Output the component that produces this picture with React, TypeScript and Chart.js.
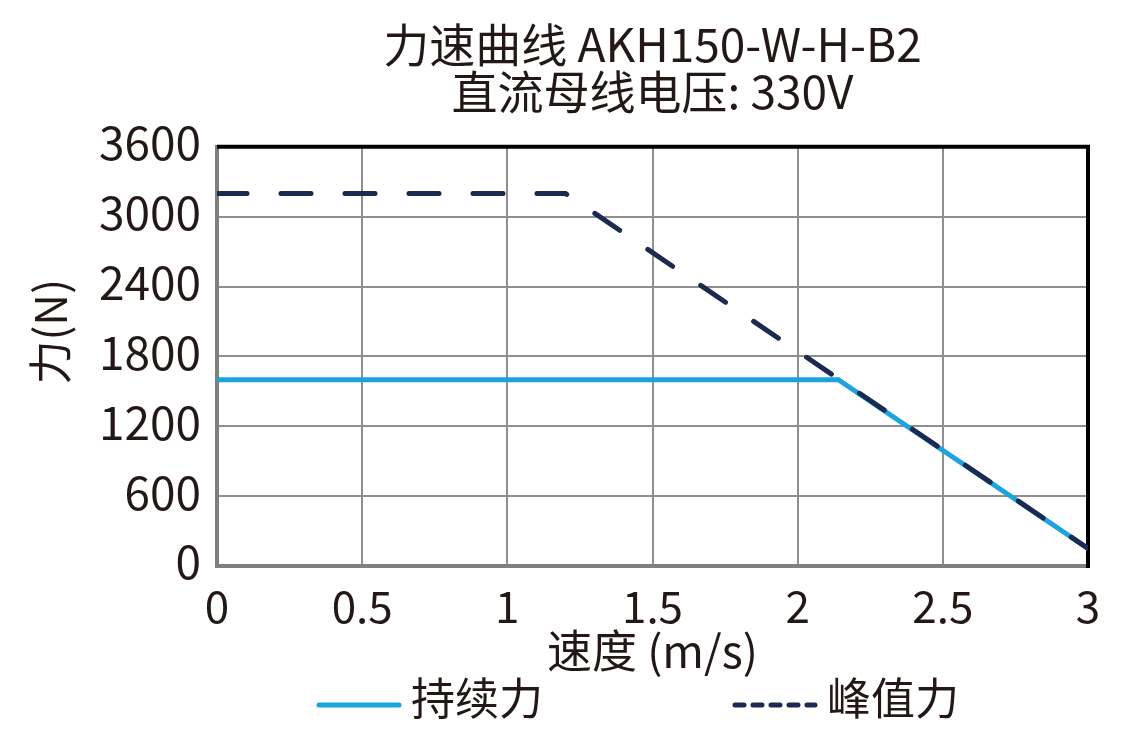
import { Chart, registerables } from "chart.js";
import { useEffect, useRef } from "react";

Chart.register(...registerables);

const FONT = '"Noto Sans CJK SC", "Noto Sans", sans-serif';
const TEXT_COLOR = "#231815";

const titleLines = ["力速曲线 AKH150-W-H-B2", "直流母线电压: 330V"];
const xTitle = "速度 (m/s)";
const yTitle = "     力(N)";
const seriesNames = ["持续力", "峰值力"];
const seriesColors = ["#1ea3de", "#1b2a50"];

const continuousSpeed = [0, 2.14, 3];
const continuousForce = [1600, 1600, 150];
const peakSpeed = [0, 1.2, 3];
const peakForce = [3200, 3200, 150];

const xTicks = [0, 0.5, 1, 1.5, 2, 2.5, 3];
const yTicks = [0, 600, 1200, 1800, 2400, 3000, 3600];

// black frame on top and right of the plot
const framePlugin = {
  id: "frame",
  beforeDatasetsDraw(chart: any) {
    const { ctx, chartArea } = chart;
    ctx.save();
    ctx.strokeStyle = "#000";
    ctx.lineWidth = 4;
    ctx.beginPath();
    ctx.moveTo(chartArea.left, chartArea.top);
    ctx.lineTo(chartArea.right, chartArea.top);
    ctx.lineTo(chartArea.right, chartArea.bottom + 2);
    ctx.stroke();
    ctx.restore();
  },
};

// legend drawn under the x axis title
const legendPlugin = {
  id: "bottomLegend",
  afterDraw(chart: any) {
    const { ctx, chartArea } = chart;
    ctx.save();
    ctx.font = `44px ${FONT}`;
    ctx.textBaseline = "middle";
    ctx.textAlign = "left";
    const lineLen = 86;
    const textGap = 9;
    const itemGap = 189;
    const widths = seriesNames.map((n) => ctx.measureText(n).width);
    const total = 2 * (lineLen + textGap) + widths[0] + widths[1] + itemGap;
    let x = (chartArea.left + chartArea.right) / 2 - 15 - total / 2;
    const lineY = chart.height - 25;
    const textY = chart.height - 32;
    seriesNames.forEach((name, i) => {
      ctx.strokeStyle = seriesColors[i];
      ctx.lineWidth = 5;
      ctx.lineCap = "round";
      ctx.setLineDash(i === 1 ? [9, 9] : []);
      ctx.beginPath();
      ctx.moveTo(x + 3, lineY);
      ctx.lineTo(x + lineLen - 3, lineY);
      ctx.stroke();
      ctx.setLineDash([]);
      ctx.fillStyle = TEXT_COLOR;
      ctx.fillText(name, x + lineLen + textGap, textY);
      x += lineLen + textGap + widths[i] + itemGap;
    });
    ctx.restore();
  },
};

export default function App() {
  const chartRef = useRef<HTMLCanvasElement>(null);
  const chartInstance = useRef<Chart | null>(null);

  useEffect(() => {
    if (!chartRef.current) return;
    if (chartInstance.current) chartInstance.current.destroy();

    const ctx = chartRef.current.getContext("2d");
    if (!ctx) return;

    chartInstance.current = new Chart(ctx, {
      type: "line",
      data: {
        datasets: [
          {
            label: seriesNames[0],
            data: continuousSpeed.map((x, i) => ({ x, y: continuousForce[i] })),
            borderColor: seriesColors[0],
            backgroundColor: seriesColors[0],
            borderWidth: 5,
            pointRadius: 0,
            tension: 0,
            order: 1,
          },
          {
            label: seriesNames[1],
            data: peakSpeed.map((x, i) => ({ x, y: peakForce[i] })),
            borderColor: seriesColors[1],
            backgroundColor: seriesColors[1],
            borderWidth: 5,
            borderDash: [30, 34],
            borderCapStyle: "round",
            pointRadius: 0,
            tension: 0,
            order: 0,
          },
        ],
      },
      options: {
        responsive: true,
        maintainAspectRatio: false,
        animation: false,
        layout: {
          padding: { left: 0, right: 45, top: 0, bottom: 52 },
        },
        plugins: {
          legend: { display: false },
          tooltip: { enabled: false },
          title: {
            display: true,
            fullSize: false,
            text: titleLines,
            color: TEXT_COLOR,
            font: { family: FONT, size: 46, weight: "normal", lineHeight: 1.02 },
            padding: { top: 13, bottom: 32 },
          },
        },
        scales: {
          x: {
            type: "linear",
            min: xTicks[0],
            max: xTicks[xTicks.length - 1],
            afterBuildTicks: (scale: any) => {
              scale.ticks = xTicks.map((value) => ({ value }));
            },
            afterFit: (scale: any) => {
              scale.height = 112;
            },
            ticks: {
              color: TEXT_COLOR,
              font: { family: FONT, size: 44 },
              padding: 14,
              maxRotation: 0,
              callback: (v: any) => String(v),
            },
            grid: { color: "#8f8f8f", lineWidth: 2, drawTicks: false },
            border: { color: "#7f7f7f", width: 4 },
            title: {
              display: true,
              text: xTitle,
              color: TEXT_COLOR,
              font: { family: FONT, size: 45 },
              padding: { top: 0, bottom: 0 },
            },
          },
          y: {
            type: "linear",
            min: yTicks[0],
            max: yTicks[yTicks.length - 1],
            afterBuildTicks: (scale: any) => {
              scale.ticks = yTicks.map((value) => ({ value }));
            },
            afterFit: (scale: any) => {
              scale.width = 209;
            },
            ticks: {
              color: TEXT_COLOR,
              font: { family: FONT, size: 46 },
              padding: 16,
              labelOffset: -4,
              callback: (v: any) => String(v),
            },
            grid: { color: "#8f8f8f", lineWidth: 2, drawTicks: false },
            border: { color: "#7f7f7f", width: 4 },
            title: {
              display: true,
              text: yTitle,
              color: TEXT_COLOR,
              font: { family: FONT, size: 44 },
              padding: { top: 16, bottom: 0 },
            },
          },
        },
      },
      plugins: [framePlugin, legendPlugin],
    });

    return () => {
      if (chartInstance.current) {
        chartInstance.current.destroy();
        chartInstance.current = null;
      }
    };
  }, []);

  return (
    <div style={{ width: 1125, height: 722 }}>
      <canvas ref={chartRef}></canvas>
    </div>
  );
}
